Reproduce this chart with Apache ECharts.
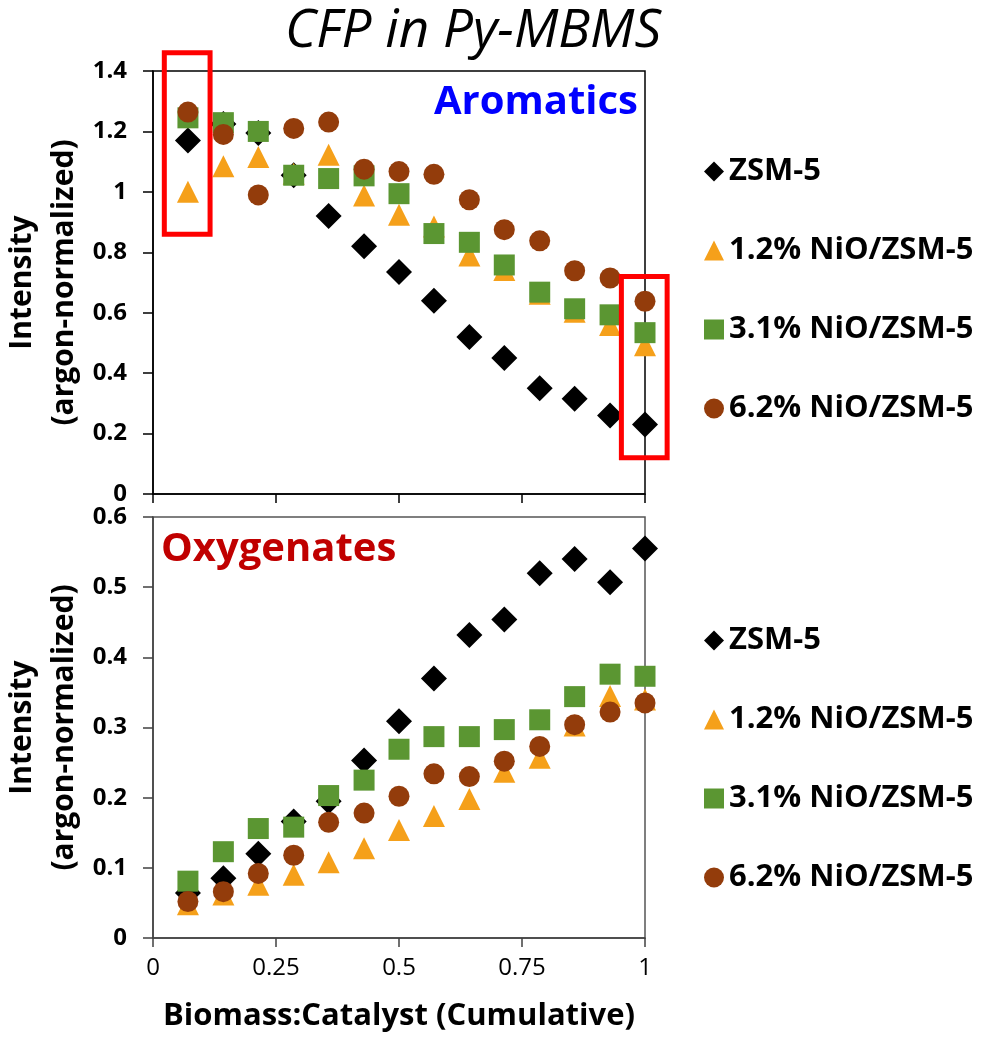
<!DOCTYPE html>
<html>
<head>
<meta charset="utf-8">
<title>CFP in Py-MBMS</title>
<script src="https://cdn.jsdelivr.net/npm/echarts@6.0.0/dist/echarts.min.js"></script>
<style>
    html, body {margin: 0; padding: 0; background: #ffffff;}
    #cfp {width: 990px; height: 1038px;}
</style>
</head>
<body>
<div id="cfp"></div>
<script>
// biomass:catalyst (cumulative), 14 pulses
var xVals = [0.071, 0.143, 0.214, 0.286, 0.357, 0.429, 0.5, 0.571, 0.643, 0.714, 0.786, 0.857, 0.929, 1];
var xTicks = ['0', '0.25', '0.5', '0.75', '1'];
var names = ['ZSM-5', '1.2% NiO/ZSM-5', '3.1% NiO/ZSM-5', '6.2% NiO/ZSM-5'];

// Aromatics (top)
var aroZsm = [1.17, 1.225, 1.195, 1.055, 0.92, 0.82, 0.735, 0.64, 0.52, 0.45, 0.35, 0.315, 0.26, 0.23];
var aroNi12 = [1.0, 1.085, 1.115, 1.06, 1.123, 0.988, 0.924, 0.885, 0.789, 0.741, 0.663, 0.603, 0.559, 0.492];
var aroNi31 = [1.245, 1.229, 1.2, 1.055, 1.044, 1.053, 0.994, 0.862, 0.833, 0.758, 0.668, 0.613, 0.593, 0.534];
var aroNi62 = [1.264, 1.19, 0.99, 1.21, 1.231, 1.075, 1.067, 1.058, 0.974, 0.875, 0.838, 0.739, 0.715, 0.638];

// Oxygenates (bottom)
var oxyZsm = [0.064, 0.085, 0.12, 0.166, 0.195, 0.253, 0.309, 0.37, 0.432, 0.454, 0.52, 0.54, 0.507, 0.555];
var oxyNi12 = [0.048, 0.062, 0.076, 0.09, 0.108, 0.128, 0.154, 0.174, 0.198, 0.237, 0.257, 0.303, 0.345, 0.34];
var oxyNi31 = [0.081, 0.123, 0.156, 0.158, 0.203, 0.225, 0.269, 0.287, 0.287, 0.297, 0.311, 0.344, 0.376, 0.373];
var oxyNi62 = [0.052, 0.066, 0.092, 0.118, 0.165, 0.178, 0.202, 0.234, 0.23, 0.252, 0.273, 0.304, 0.322, 0.335];

var FONT = '"Open Sans", Lato, sans-serif';
var marks = [
    {symbol: 'diamond', size: 26, color: '#000000'},
    {symbol: 'triangle', size: 22, color: '#F5A01A'},
    {symbol: 'rect', size: 21, color: '#5B9632'},
    {symbol: 'circle', size: 21, color: '#933C0B'}
];

function pairs(ys) {
    var out = [];
    for (var i = 0; i < ys.length; i++) out.push([xVals[i], ys[i]]);
    return out;
}

function mkSeries(idx, ys, k) {
    return {
        name: names[k],
        type: 'scatter',
        xAxisIndex: idx,
        yAxisIndex: idx,
        symbol: marks[k].symbol,
        symbolSize: marks[k].size,
        itemStyle: {color: marks[k].color, opacity: 1},
        clip: false,
        silent: true,
        data: pairs(ys)
    };
}

function mkX(idx, lineColor, showLabels) {
    return {
        type: 'value', gridIndex: idx, min: 0, max: 1, interval: 0.25,
        axisLine: {show: true, onZero: false, lineStyle: {color: lineColor, width: 1.5}},
        axisTick: {show: true, length: 9, lineStyle: {color: lineColor, width: 1.5}},
        axisLabel: {
            show: showLabels, margin: 18, color: '#000', fontSize: 24, fontFamily: FONT,
            formatter: function (v) { return xTicks[Math.round(v / 0.25)]; }
        },
        splitLine: {show: false},
        name: showLabels ? 'Biomass:Catalyst (Cumulative)' : '',
        nameLocation: 'middle', nameGap: 63,
        nameTextStyle: {color: '#000', fontSize: 31, fontWeight: 'bold', fontFamily: FONT}
    };
}

function mkY(idx, max, step, lineColor, labelWeight) {
    return {
        type: 'value', gridIndex: idx, min: 0, max: max, interval: step,
        axisLine: {show: true, onZero: false, lineStyle: {color: lineColor, width: 1.5}},
        axisTick: {show: true, length: 10, lineStyle: {color: lineColor, width: 1.5}},
        axisLabel: {
            margin: 26, color: '#000', fontSize: 24, fontWeight: labelWeight, fontFamily: FONT,
            formatter: function (v) { return String(Math.round(v * 10) / 10); }
        },
        splitLine: {show: false},
        name: 'Intensity\n(argon-normalized)',
        nameLocation: 'middle', nameGap: 68,
        nameTextStyle: {color: '#000', fontSize: 30, fontWeight: 'bold', fontFamily: FONT, lineHeight: 42}
    };
}

function mkLegend(top) {
    return {
        data: names, orient: 'vertical', left: 699, top: top,
        itemWidth: 20, itemHeight: 20, itemGap: 48,
        selectedMode: false,
        textStyle: {color: '#000', fontSize: 31, fontWeight: 'bold', fontFamily: FONT, lineHeight: 28}
    };
}

var cfp = echarts.init(document.getElementById('cfp'));
var option = {
    backgroundColor: '#ffffff',
    animation: false,
    title: [
        {text: 'CFP in Py-MBMS', left: 280, top: 0,
            textStyle: {fontSize: 53, fontStyle: 'italic', fontWeight: 'normal', color: '#000', fontFamily: FONT}},
        {text: 'Aromatics', right: 347, top: 78,
            textStyle: {fontSize: 40, fontWeight: 'bold', color: '#0000FF', fontFamily: FONT}},
        {text: 'Oxygenates', left: 156, top: 525,
            textStyle: {fontSize: 40, fontWeight: 'bold', color: '#C00000', fontFamily: FONT}}
    ],
    legend: [mkLegend(151), mkLegend(620)],
    grid: [
        {left: 153, top: 71, width: 492, height: 423, show: true, borderColor: '#000', borderWidth: 1.5},
        {left: 153, top: 517, width: 492, height: 421, show: true, borderColor: '#555', borderWidth: 1.5}
    ],
    xAxis: [mkX(0, '#000', false), mkX(1, '#404040', true)],
    yAxis: [mkY(0, 1.4, 0.2, '#000', 'bold'), mkY(1, 0.6, 0.1, '#404040', 'bold')],
    series: [
        mkSeries(0, aroZsm, 0), mkSeries(0, aroNi12, 1), mkSeries(0, aroNi31, 2), mkSeries(0, aroNi62, 3),
        mkSeries(1, oxyZsm, 0), mkSeries(1, oxyNi12, 1), mkSeries(1, oxyNi31, 2), mkSeries(1, oxyNi62, 3)
    ]
};
cfp.setOption(option);

// red highlight boxes around the first and last pulse (top panel)
function box(xc, yLo, yHi) {
    var a = cfp.convertToPixel({gridIndex: 0}, [xc - 0.048, yHi]);
    var b = cfp.convertToPixel({gridIndex: 0}, [xc + 0.045, yLo]);
    return {
        type: 'rect', z: 100, silent: true,
        shape: {x: a[0], y: a[1], width: b[0] - a[0], height: b[1] - a[1]},
        style: {fill: 'none', stroke: '#FF0000', lineWidth: 5}
    };
}
cfp.setOption({
    graphic: [
        box(xVals[0], 0.86, 1.46),
        box(xVals[xVals.length - 1], 0.12, 0.72)
    ]
});
</script>
</body>
</html>
